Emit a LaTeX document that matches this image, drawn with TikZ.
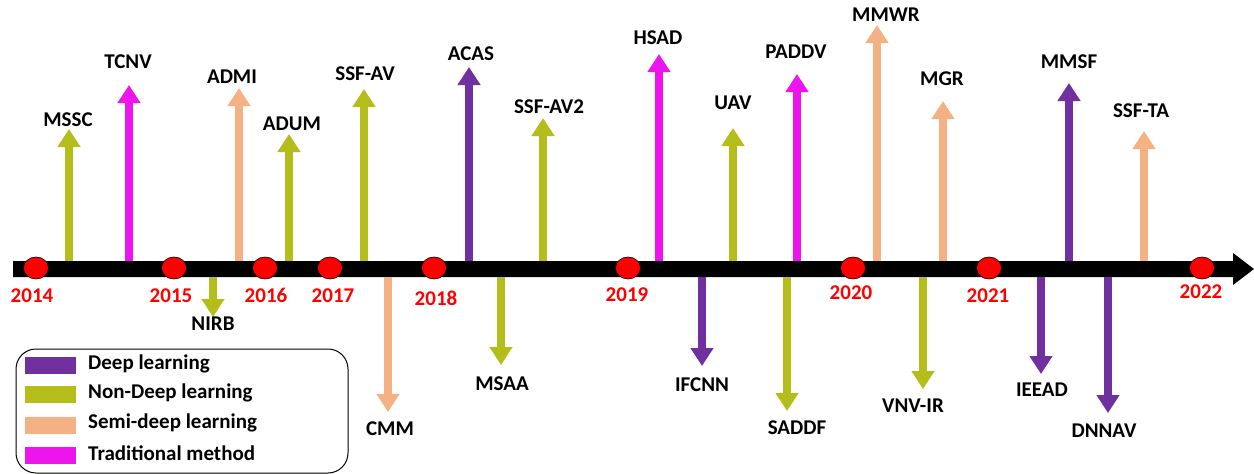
\documentclass[tikz,border=0pt]{standalone}
\usepackage{fontspec}
\setmainfont{Carlito}
\usetikzlibrary{arrows.meta,shapes.geometric}
\definecolor{deep}{HTML}{7030A0}
\definecolor{nondeep}{HTML}{B5BD1A}
\definecolor{semi}{HTML}{F4B183}
\definecolor{trad}{HTML}{EE14EE}
\tikzset{
  lbl/.style={font=\fontsize{21}{25}\selectfont\bfseries, inner sep=0pt, anchor=center, text=black},
  yearlbl/.style={lbl, text=red},
  method/.style={line width=8pt, -{Triangle[width=22pt,length=18pt]}},
  yeardot/.style={ellipse, draw=black, line width=0.6pt, fill=red, minimum width=25pt, minimum height=22pt, inner sep=0pt},
  swatch/.style={minimum width=51pt, minimum height=17pt, inner sep=0pt},
  legtxt/.style={lbl, anchor=west},
}
\begin{document}
\begin{tikzpicture}[x=1pt,y=-1pt]
\useasboundingbox (0,0) rectangle (1254,474);
% timeline bar
\fill[black] (13,261) -- (1233,261) -- (1233,253) -- (1254,269) -- (1233,285) -- (1233,277) -- (13,277) -- cycle;
% up arrows
\foreach \x/\t/\c/\n/\lx/\ly [count=\i] in {
  69/129/nondeep/MSSC/68/120,
  129/85/trad/TCNV/128/62,
  239/88/semi/ADMI/232/77,
  289/134/nondeep/ADUM/292/124,
  364/89/nondeep/SSF-AV/365/74,
  469/67/deep/ACAS/471/54,
  543/118/nondeep/SSF-AV2/549/107,
  659/54/trad/HSAD/658/38,
  733/128/nondeep/UAV/733/103,
  797/74/trad/PADDV/796/52,
  877/25/semi/MMWR/886/15,
  943/101/semi/MGR/942/79,
  1069/83/deep/MMSF/1069/62,
  1144/131/semi/SSF-TA/1141/111}{
  \coordinate (ub\i) at (\x,261);
  \coordinate (ut\i) at (\x,\t);
  \draw[method, draw=\c, fill=\c] (ub\i) -- (ut\i);
  \node[lbl] (ul\i) at (\lx,\ly) {\n};
}
% down arrows
\foreach \x/\t/\c/\n/\lx/\ly [count=\i] in {
  213/317/nondeep/NIRB/213/324,
  388/412/semi/CMM/390/429,
  501/365/nondeep/MSAA/502/384,
  702/366/deep/IFCNN/702/385,
  787/411/nondeep/SADDF/797/428,
  923/389/nondeep/VNV-IR/913/406,
  1041/374/deep/IEEAD/1042/390,
  1108/413/deep/DNNAV/1104/431}{
  \coordinate (db\i) at (\x,277);
  \coordinate (dt\i) at (\x,\t);
  \draw[method, draw=\c, fill=\c] (db\i) -- (dt\i);
  \node[lbl] (dl\i) at (\lx,\ly) {\n};
}
% year dots and labels
\foreach \x/\lx/\ly/\yr in {
  36/32/296/2014, 174/171/296/2015, 265/266/295/2016, 330/333/296/2017,
  434/436/298/2018, 628/627/295/2019, 853/851/293/2020, 989/988/296/2021,
  1202/1201/292/2022}{
  \node[yeardot] (d\yr) at (\x,268) {};
  \node[yearlbl] (y\yr) at (\lx,\ly) {\yr};
}
% legend
\draw[rounded corners=20pt, line width=1pt] (16,349) rectangle (348,473);
\node[swatch, fill=deep] (s1) at (50.5,365.5) {};
\node[swatch, fill=nondeep] (s2) at (50.5,394) {};
\node[swatch, fill=semi] (s3) at (50.5,425) {};
\node[swatch, fill=trad] (s4) at (50.5,455) {};
\node[legtxt] (t1) at (88,364) {Deep learning};
\node[legtxt] (t2) at (88,393) {Non-Deep learning};
\node[legtxt] (t3) at (88,423) {Semi-deep learning};
\node[legtxt] (t4) at (88,453) {Traditional method};
\end{tikzpicture}
\end{document}
